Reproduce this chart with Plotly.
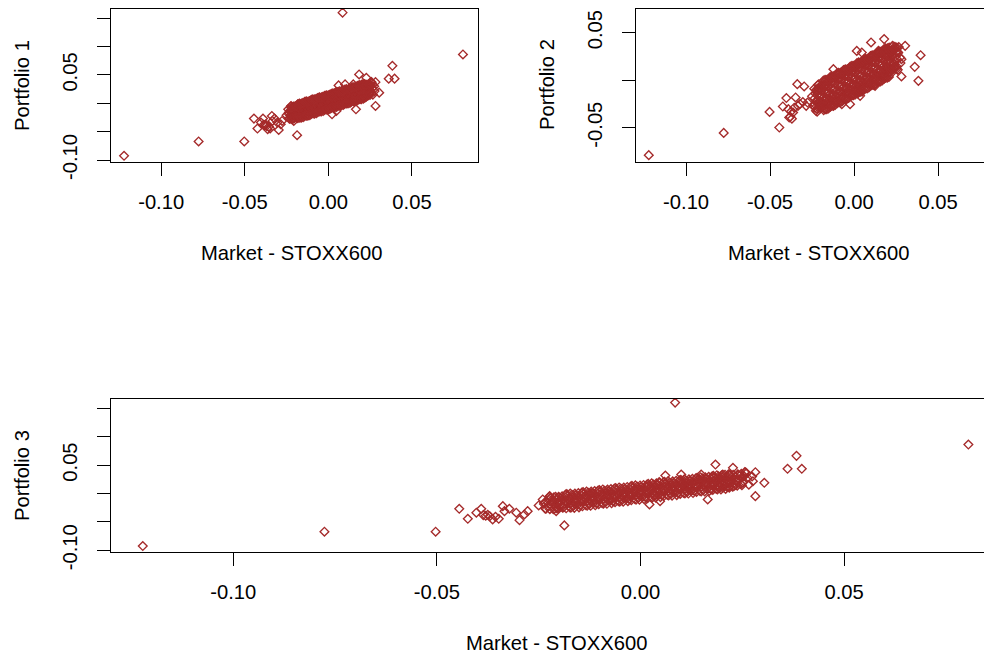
import plotly.graph_objects as go

# ---------------- data ----------------
# Market - STOXX600 daily returns (shared x for all three panels)
market = [
    # isolated points
    -0.1222, -0.0776, -0.0503, -0.0445, -0.0424, -0.0403, -0.0391, -0.0386, -0.0380, -0.0375,
    -0.0370, -0.0363, -0.0356, -0.0348, -0.0338, -0.0334, -0.0322, -0.0305, -0.0297, -0.0285,
    -0.0277, -0.0250, -0.0236, -0.0232, -0.0207, -0.0187, -0.0223, -0.0123, 0.0101, 0.0179,
    0.0254, 0.0304, 0.0361, 0.0383, 0.0396, 0.0805, 0.0085, 0.0282, 0.0282, 0.0276,
    0.0258, 0.0227, 0.0184, 0.0165, 0.0243, 0.0251, 0.0202, 0.0218, 0.0235, 0.0202,
    0.0218, 0.0061, 0.0100, 0.0149, 0.0022, 0.0048, 0.0174, 0.0194, 0.0046, 0.0016,
    -0.0073, -0.0024, 0.0036, 0.0125, 0.0194, 0.0234, 0.0145, 0.0274,
    # dense core
    -0.0240, -0.0237, -0.0234, -0.0230, -0.0227, -0.0224, -0.0220, -0.0217, -0.0214,
    -0.0210, -0.0207, -0.0204, -0.0200, -0.0197, -0.0194, -0.0190, -0.0187, -0.0184,
    -0.0180, -0.0177, -0.0174, -0.0170, -0.0167, -0.0164, -0.0160, -0.0157, -0.0154,
    -0.0150, -0.0147, -0.0144, -0.0140, -0.0137, -0.0134, -0.0130, -0.0127, -0.0124,
    -0.0120, -0.0117, -0.0114, -0.0110, -0.0107, -0.0104, -0.0100, -0.0097, -0.0094,
    -0.0090, -0.0087, -0.0084, -0.0080, -0.0077, -0.0074, -0.0070, -0.0067, -0.0064,
    -0.0060, -0.0057, -0.0054, -0.0050, -0.0047, -0.0044, -0.0040, -0.0037, -0.0034,
    -0.0030, -0.0027, -0.0024, -0.0020, -0.0017, -0.0014, -0.0010, -0.0007, -0.0004,
    0.0000, 0.0003, 0.0006, 0.0010, 0.0013, 0.0016, 0.0020, 0.0023, 0.0026,
    0.0030, 0.0033, 0.0036, 0.0040, 0.0043, 0.0046, 0.0050, 0.0053, 0.0056,
    0.0060, 0.0063, 0.0066, 0.0070, 0.0073, 0.0076, 0.0080, 0.0083, 0.0086,
    0.0090, 0.0093, 0.0096, 0.0100, 0.0103, 0.0106, 0.0110, 0.0113, 0.0116,
    0.0120, 0.0123, 0.0126, 0.0130, 0.0133, 0.0136, 0.0140, 0.0143, 0.0146,
    0.0150, 0.0153, 0.0156, 0.0160, 0.0163, 0.0166, 0.0170, 0.0173, 0.0176,
    0.0180, 0.0183, 0.0186, 0.0190, 0.0193, 0.0196, 0.0200, 0.0203, 0.0206,
    0.0210, 0.0213, 0.0216, 0.0220, 0.0223, 0.0226, 0.0230, 0.0233, 0.0236,
    0.0240, 0.0243, 0.0246, 0.0250, 0.0253, 0.0256, 0.0260, 0.0263, 0.0266,
    # dense core, second layer
    -0.02185, -0.02155, -0.02085, -0.02055, -0.01985, -0.01955, -0.01885, -0.01855,
    -0.01785, -0.01755, -0.01685, -0.01655, -0.01585, -0.01555, -0.01485, -0.01455,
    -0.01385, -0.01355, -0.01285, -0.01255, -0.01185, -0.01155, -0.01085, -0.01055,
    -0.00985, -0.00955, -0.00885, -0.00855, -0.00785, -0.00755, -0.00685, -0.00655,
    -0.00585, -0.00555, -0.00485, -0.00455, -0.00385, -0.00355, -0.00285, -0.00255,
    -0.00185, -0.00155, -0.00085, -0.00055, 0.00015, 0.00045, 0.00115, 0.00145,
    0.00215, 0.00245, 0.00315, 0.00345, 0.00415, 0.00445, 0.00515, 0.00545,
    0.00615, 0.00645, 0.00715, 0.00745, 0.00815, 0.00845, 0.00915, 0.00945,
    0.01015, 0.01045, 0.01115, 0.01145, 0.01215, 0.01245, 0.01315, 0.01345,
    0.01415, 0.01445, 0.01515, 0.01545, 0.01615, 0.01645, 0.01715, 0.01745,
    0.01815, 0.01845, 0.01915, 0.01945, 0.02015, 0.02045, 0.02115, 0.02145,
    0.02215, 0.02245,
    # dense core, outer edges
    -0.02225, -0.0221, -0.02125, -0.0211, -0.02025, -0.0201, -0.01925, -0.0191,
    -0.01825, -0.0181, -0.01725, -0.0171, -0.01625, -0.0161, -0.01525, -0.0151,
    -0.01425, -0.0141, -0.01325, -0.0131, -0.01225, -0.0121, -0.01125, -0.0111,
    -0.01025, -0.0101, -0.00925, -0.0091, -0.00825, -0.0081, -0.00725, -0.0071,
    -0.00625, -0.0061, -0.00525, -0.0051, -0.00425, -0.0041, -0.00325, -0.0031,
    -0.00225, -0.0021, -0.00125, -0.0011, -0.00025, -0.0001, 0.00075, 0.0009,
    0.00175, 0.0019, 0.00275, 0.0029, 0.00375, 0.0039, 0.00475, 0.0049,
    0.00575, 0.0059, 0.00675, 0.0069, 0.00775, 0.0079, 0.00875, 0.0089,
    0.00975, 0.0099, 0.01075, 0.0109, 0.01175, 0.0119, 0.01275, 0.0129,
    0.01375, 0.0139, 0.01475, 0.0149, 0.01575, 0.0159, 0.01675, 0.0169,
    0.01775, 0.0179, 0.01875, 0.0189, 0.01975, 0.0199, 0.02075, 0.0209,
    0.02175, 0.0219, 0.02275, 0.0229, 0.02375, 0.0239, 0.02475, 0.0249,
]

portfolio_1 = [
    -0.0925, -0.0673, -0.0673, -0.0269, -0.0445, -0.0339, -0.0269, -0.0380, -0.0392, -0.0375,
    -0.0400, -0.0457, -0.0410, -0.0445, -0.0223, -0.0311, -0.0269, -0.0339, -0.0469, -0.0369,
    -0.0311, -0.0211, -0.0163, -0.0269, -0.0311, -0.0562, -0.0047, 0.0000, 0.0180, 0.0280,
    0.0304, 0.0188, 0.0435, 0.0662, 0.0435, 0.0862, 0.1600, -0.0047, 0.0374, 0.0216,
    0.0374, 0.0451, 0.0509, -0.0105, 0.0304, 0.0188, 0.0100, 0.0100, 0.0216, 0.0334,
    0.0334, 0.0316, 0.0334, 0.0334, -0.0193, -0.0135, 0.0070, 0.0188, 0.0200, 0.0120,
    -0.0100, -0.0050, -0.0020, 0.0050, 0.0120, 0.0150, 0.0250, 0.0300,
    -0.0106, -0.0186, -0.0266, -0.0137, -0.0217, -0.0057, -0.0078, -0.0158, -0.0278,
    -0.0209, -0.0109, -0.0169, -0.0070, -0.0150, -0.0230, -0.0101, -0.0181, -0.0021,
    -0.0042, -0.0122, -0.0242, -0.0173, -0.0073, -0.0133, -0.0034, -0.0114, -0.0194,
    -0.0065, -0.0145, 0.0015, -0.0006, -0.0086, -0.0206, -0.0137, -0.0037, -0.0097,
    0.0002, -0.0078, -0.0158, -0.0029, -0.0109, 0.0051, 0.0030, -0.0050, -0.0170,
    -0.0101, -0.0001, -0.0061, 0.0038, -0.0042, -0.0122, 0.0007, -0.0073, 0.0087,
    0.0066, -0.0014, -0.0134, -0.0065, 0.0035, -0.0025, 0.0074, -0.0006, -0.0086,
    0.0043, -0.0037, 0.0123, 0.0102, 0.0022, -0.0098, -0.0029, 0.0071, 0.0011,
    0.0110, 0.0030, -0.0050, 0.0079, -0.0001, 0.0159, 0.0138, 0.0058, -0.0062,
    0.0007, 0.0107, 0.0047, 0.0146, 0.0066, -0.0014, 0.0115, 0.0035, 0.0195,
    0.0174, 0.0094, -0.0026, 0.0043, 0.0143, 0.0083, 0.0182, 0.0102, 0.0022,
    0.0151, 0.0071, 0.0231, 0.0210, 0.0130, 0.0010, 0.0079, 0.0179, 0.0119,
    0.0218, 0.0138, 0.0058, 0.0187, 0.0107, 0.0267, 0.0246, 0.0166, 0.0046,
    0.0115, 0.0215, 0.0155, 0.0254, 0.0174, 0.0094, 0.0223, 0.0143, 0.0303,
    0.0282, 0.0202, 0.0082, 0.0151, 0.0251, 0.0191, 0.0290, 0.0210, 0.0130,
    0.0259, 0.0179, 0.0339, 0.0318, 0.0238, 0.0118, 0.0187, 0.0287, 0.0227,
    0.0326, 0.0246, 0.0166, 0.0295, 0.0215, 0.0375, 0.0354, 0.0274, 0.0154,
    -0.0208, -0.0118, -0.0059, -0.0259, -0.0110, -0.0190, -0.0241, -0.0141,
    -0.0172, -0.0082, -0.0023, -0.0223, -0.0074, -0.0154, -0.0205, -0.0105,
    -0.0136, -0.0046, 0.0013, -0.0187, -0.0038, -0.0118, -0.0169, -0.0069,
    -0.0100, -0.0010, 0.0049, -0.0151, -0.0002, -0.0082, -0.0133, -0.0033,
    -0.0064, 0.0026, 0.0085, -0.0115, 0.0034, -0.0046, -0.0097, 0.0003,
    -0.0028, 0.0062, 0.0121, -0.0079, 0.0070, -0.0010, -0.0061, 0.0039,
    0.0008, 0.0098, 0.0157, -0.0043, 0.0106, 0.0026, -0.0025, 0.0075,
    0.0044, 0.0134, 0.0193, -0.0007, 0.0142, 0.0062, 0.0011, 0.0111,
    0.0080, 0.0170, 0.0229, 0.0029, 0.0178, 0.0098, 0.0047, 0.0147,
    0.0116, 0.0206, 0.0265, 0.0065, 0.0214, 0.0134, 0.0083, 0.0183,
    0.0152, 0.0242, 0.0301, 0.0101, 0.0250, 0.0170, 0.0119, 0.0219,
    0.0188, 0.0278,
    -0.0277, -0.0077, -0.0068, -0.0268, -0.0259, -0.0059, -0.0050, -0.0250,
    -0.0261, -0.0011, -0.0002, -0.0252, -0.0253, -0.0003, 0.0006, -0.0244,
    -0.0225, 0.0025, 0.0034, -0.0216, -0.0217, 0.0033, 0.0042, -0.0208,
    -0.0189, 0.0061, 0.0070, -0.0180, -0.0181, 0.0069, 0.0078, -0.0172,
    -0.0153, 0.0097, 0.0106, -0.0144, -0.0145, 0.0105, 0.0114, -0.0136,
    -0.0117, 0.0133, 0.0142, -0.0108, -0.0109, 0.0141, 0.0150, -0.0100,
    -0.0081, 0.0169, 0.0178, -0.0072, -0.0073, 0.0177, 0.0186, -0.0064,
    -0.0045, 0.0205, 0.0214, -0.0036, -0.0037, 0.0213, 0.0222, -0.0028,
    -0.0009, 0.0241, 0.0250, 0.0000, -0.0001, 0.0249, 0.0258, 0.0008,
    0.0027, 0.0277, 0.0286, 0.0036, 0.0035, 0.0285, 0.0294, 0.0044,
    0.0063, 0.0313, 0.0322, 0.0072, 0.0071, 0.0321, 0.0330, 0.0080,
    0.0119, 0.0319, 0.0328, 0.0128, 0.0137, 0.0337, 0.0346, 0.0146,
]

portfolio_2 = [
    -0.0789, -0.0555, -0.0334, -0.0498, -0.0277, -0.0188, -0.0305, -0.0393, -0.0385, -0.0330,
    -0.0405, -0.0340, -0.0290, -0.0182, -0.0042, -0.0270, -0.0250, -0.0230, -0.0066, -0.0270,
    -0.0235, -0.0170, -0.0250, -0.0290, -0.0260, -0.0280, -0.0100, 0.0116, 0.0397, 0.0432,
    0.0344, 0.0361, 0.0140, -0.0007, 0.0263, 0.0719, 0.0150, 0.0039, 0.0221, 0.0180,
    0.0300, 0.0260, 0.0300, 0.0050, 0.0200, 0.0150, 0.0120, 0.0100, 0.0320, 0.0280,
    0.0230, 0.0180, 0.0250, 0.0300, -0.0140, -0.0120, 0.0060, 0.0250, 0.0291, 0.0308,
    -0.0253, -0.0253, -0.0165, -0.0060, 0.0063, 0.0134, 0.0308, 0.0239,
    -0.0271, -0.0091, -0.0191, -0.0142, -0.0322, -0.0222, -0.0332, -0.0152, -0.0092,
    -0.0043, -0.0223, -0.0273, -0.0234, -0.0054, -0.0154, -0.0105, -0.0285, -0.0185,
    -0.0296, -0.0116, -0.0056, -0.0006, -0.0186, -0.0236, -0.0197, -0.0017, -0.0117,
    -0.0068, -0.0248, -0.0148, -0.0259, -0.0079, -0.0019, 0.0030, -0.0150, -0.0200,
    -0.0160, 0.0020, -0.0080, -0.0031, -0.0211, -0.0111, -0.0222, -0.0042, 0.0018,
    0.0067, -0.0113, -0.0163, -0.0124, 0.0056, -0.0044, 0.0006, -0.0174, -0.0074,
    -0.0185, -0.0005, 0.0055, 0.0104, -0.0076, -0.0126, -0.0087, 0.0093, -0.0007,
    0.0042, -0.0138, -0.0038, -0.0148, 0.0032, 0.0092, 0.0141, -0.0039, -0.0089,
    -0.0050, 0.0130, 0.0030, 0.0079, -0.0101, -0.0001, -0.0112, 0.0068, 0.0128,
    0.0178, -0.0002, -0.0052, -0.0013, 0.0167, 0.0067, 0.0116, -0.0064, 0.0036,
    -0.0075, 0.0105, 0.0165, 0.0214, 0.0034, -0.0016, 0.0024, 0.0204, 0.0104,
    0.0153, -0.0027, 0.0073, -0.0038, 0.0142, 0.0202, 0.0251, 0.0071, 0.0021,
    0.0060, 0.0240, 0.0140, 0.0190, 0.0010, 0.0110, -0.0001, 0.0179, 0.0239,
    0.0288, 0.0108, 0.0058, 0.0097, 0.0277, 0.0177, 0.0226, 0.0046, 0.0146,
    0.0036, 0.0216, 0.0276, 0.0325, 0.0145, 0.0095, 0.0134, 0.0314, 0.0214,
    0.0263, 0.0083, 0.0183, 0.0072, 0.0252, 0.0312, 0.0362, 0.0182, 0.0132,
    0.0171, 0.0351, 0.0251, 0.0300, 0.0120, 0.0220, 0.0109, 0.0289, 0.0349,
    -0.0242, -0.0052, -0.0103, -0.0183, -0.0294, -0.0104, -0.0055, -0.0235,
    -0.0206, -0.0016, -0.0066, -0.0146, -0.0257, -0.0067, -0.0018, -0.0198,
    -0.0169, 0.0021, -0.0030, -0.0110, -0.0220, -0.0030, 0.0019, -0.0161,
    -0.0132, 0.0058, 0.0007, -0.0073, -0.0184, 0.0006, 0.0056, -0.0124,
    -0.0095, 0.0095, 0.0044, -0.0036, -0.0147, 0.0043, 0.0092, -0.0088,
    -0.0058, 0.0132, 0.0081, 0.0001, -0.0110, 0.0080, 0.0129, -0.0051,
    -0.0022, 0.0168, 0.0118, 0.0038, -0.0073, 0.0117, 0.0166, -0.0014,
    0.0015, 0.0205, 0.0154, 0.0074, -0.0036, 0.0154, 0.0203, 0.0023,
    0.0052, 0.0242, 0.0191, 0.0111, 0.0000, 0.0190, 0.0240, 0.0060,
    0.0089, 0.0279, 0.0228, 0.0148, 0.0037, 0.0227, 0.0276, 0.0096,
    0.0126, 0.0316, 0.0265, 0.0185, 0.0074, 0.0264, 0.0313, 0.0133,
    0.0162, 0.0352,
    -0.0102, -0.0302, -0.0092, -0.0292, -0.0283, -0.0083, -0.0274, -0.0074,
    -0.0005, -0.0315, 0.0004, -0.0306, -0.0306, 0.0004, -0.0297, 0.0013,
    0.0032, -0.0278, 0.0041, -0.0269, -0.0270, 0.0040, -0.0260, 0.0050,
    0.0069, -0.0241, 0.0078, -0.0232, -0.0233, 0.0077, -0.0224, 0.0086,
    0.0106, -0.0204, 0.0115, -0.0195, -0.0196, 0.0114, -0.0187, 0.0123,
    0.0142, -0.0168, 0.0152, -0.0158, -0.0159, 0.0151, -0.0150, 0.0160,
    0.0179, -0.0131, 0.0188, -0.0122, -0.0122, 0.0188, -0.0113, 0.0197,
    0.0216, -0.0094, 0.0225, -0.0085, -0.0086, 0.0224, -0.0076, 0.0234,
    0.0253, -0.0057, 0.0262, -0.0048, -0.0049, 0.0261, -0.0040, 0.0270,
    0.0290, -0.0020, 0.0299, -0.0011, -0.0012, 0.0298, -0.0003, 0.0307,
    0.0326, 0.0016, 0.0336, 0.0026, 0.0025, 0.0335, 0.0034, 0.0344,
    0.0303, 0.0103, 0.0312, 0.0112, 0.0122, 0.0322, 0.0131, 0.0331,
]

# Panel 3 plots exactly the same returns as panel 1 (identical point cloud, wider panel)
portfolio_3 = list(portfolio_1)

x_label = "Market - STOXX600"
y_labels = ["Portfolio 1", "Portfolio 2", "Portfolio 3"]

x_ticks = [-0.10, -0.05, 0.00, 0.05]
x_tick_text = ["-0.10", "-0.05", "0.00", "0.05"]
y_ticks_13 = [-0.10, -0.05, 0.00, 0.05, 0.10, 0.15]
y_tick_text_13 = ["-0.10", "", "", "0.05", "", ""]
y_ticks_2 = [-0.05, 0.00, 0.05]
y_tick_text_2 = ["-0.05", "", "0.05"]

# ---------------- styling / layout ----------------
W, H = 992, 659
OFF = 8  # the page body adds an 8px margin; positions below are page pixels
BROWN = "#A52A2A"
FONT = "Arial, Liberation Sans, sans-serif"
FS = 20.2


def fx(p):
    return (p - OFF) / W


def fy(p):
    return 1 - (p - OFF) / H


marker = dict(symbol="diamond-open", size=6.7, color=BROWN, line=dict(width=1.35, color=BROWN))

fig = go.Figure()
for xa, ya, yv in (("x", "y", portfolio_1), ("x2", "y2", portfolio_2), ("x3", "y3", portfolio_3)):
    fig.add_trace(go.Scatter(x=market, y=yv, mode="markers", marker=marker,
                             xaxis=xa, yaxis=ya, showlegend=False, hoverinfo="skip"))

common_x = dict(
    tickvals=x_ticks, ticktext=x_tick_text, ticks="outside", ticklen=13, tickwidth=1,
    tickcolor="black", showline=True, linecolor="black", linewidth=1, mirror=True,
    showgrid=False, zeroline=False, tickfont=dict(family=FONT, size=FS, color="black"),
    ticklabelstandoff=9, automargin=False,
)
common_y = dict(
    ticks="outside", ticklen=13, tickwidth=1, tickcolor="black", showline=True,
    linecolor="black", linewidth=1, showgrid=False, zeroline=False, tickangle=-90,
    tickfont=dict(family=FONT, size=FS, color="black"), ticklabelstandoff=12,
    automargin=False,
)

fig.update_layout(
    width=W, height=H, margin=dict(l=0, r=0, t=0, b=0),
    paper_bgcolor="white", plot_bgcolor="white",
    font=dict(family=FONT, size=FS, color="black"),
    xaxis=dict(common_x, domain=[fx(111), fx(478)], range=[-0.1300, 0.0895], anchor="y"),
    yaxis=dict(common_y, domain=[fy(162), fy(9)], range=[-0.1035, 0.1664], anchor="x",
               tickvals=y_ticks_13, ticktext=y_tick_text_13, mirror=True),
    xaxis2=dict(common_x, domain=[fx(636), fx(992)], range=[-0.1298, 0.0821], anchor="y2"),
    yaxis2=dict(common_y, domain=[fy(162), fy(9)], range=[-0.0861, 0.0749], anchor="x2",
                tickvals=y_ticks_2, ticktext=y_tick_text_2, mirror=False),
    xaxis3=dict(common_x, domain=[fx(111), fx(992)], range=[-0.1300, 0.0863], anchor="y3"),
    yaxis3=dict(common_y, domain=[fy(552), fy(399)], range=[-0.1030, 0.1663], anchor="x3",
                tickvals=y_ticks_13, ticktext=y_tick_text_13, mirror=False),
)

annots = [
    (291, 253, x_label, 0), (818, 253, x_label, 0), (556, 643, x_label, 0),
    (22, 86, y_labels[0], -90), (547, 85, y_labels[1], -90), (22, 476, y_labels[2], -90),
]
for px_, py_, txt, ang in annots:
    fig.add_annotation(x=fx(px_), y=fy(py_), xref="paper", yref="paper", text=txt,
                       showarrow=False, textangle=ang, xanchor="center", yanchor="middle",
                       font=dict(family=FONT, size=FS, color="black"))

fig.write_html("out.html")
